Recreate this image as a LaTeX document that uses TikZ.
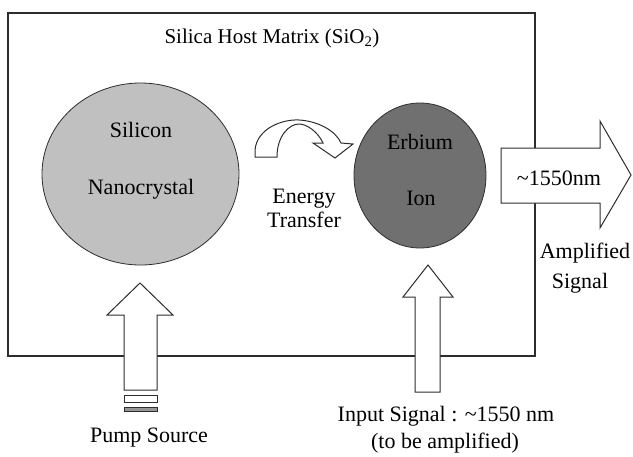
\documentclass[tikz,border=0pt]{standalone}
\usepackage{fontspec}
\setmainfont{Liberation Serif}
\usepackage{xcolor}
\definecolor{sigray}{RGB}{192,192,192}
\definecolor{ergray}{RGB}{112,112,112}
\definecolor{barfill}{RGB}{150,150,150}
\definecolor{linegray}{RGB}{45,45,45}
\usetikzlibrary{shapes.geometric}

\begin{document}
\begin{tikzpicture}[
  x=1pt, y=-1pt,
  every node/.style={font=\rmfamily\fontsize{22}{26}\selectfont, inner sep=0pt},
  lbl/.style={anchor=base},
  particle/.style={draw=linegray, line width=0.8pt, ellipse},
  blockarrow/.style={draw=linegray, fill=white, line width=1pt, line join=miter},
]
\useasboundingbox (0,0) rectangle (633,456);

% host matrix
\draw[linegray, line width=1.2pt] (8,13) rectangle (535,356);
\node[lbl, font=\rmfamily\fontsize{21}{25}\selectfont] (matrix) at (272,43) {Silica Host Matrix (SiO\textsubscript{2})};

% particles
\node[particle, fill=sigray, minimum width=197pt, minimum height=182pt] (si) at (140.5,174) {};
\node[particle, fill=ergray, minimum width=132pt, minimum height=145pt] (er) at (420,175.5) {};
\node[lbl] (silabel) at (141,137) {Silicon};
\node[lbl] (nclabel) at (141,194) {Nanocrystal};
\node[lbl] (erlabel) at (420,149) {Erbium};
\node[lbl] (ionlabel) at (421,205) {Ion};

% energy transfer
\draw[blockarrow] (255,157) -- (255,150)
  .. controls (257,128) and (283,119) .. (299,120)
  .. controls (318,121) and (336,131) .. (341,143)
  -- (353,144) -- (335,158) -- (313,143) -- (323,143)
  .. controls (318,132) and (307,124) .. (299,124)
  .. controls (289,124) and (277,136) .. (277,157) -- cycle;
\node[lbl] (energy) at (304,203) {Energy};
\node[lbl] (transfer) at (304,227) {Transfer};

% amplified output
\draw[blockarrow] (501,148) -- (600,148) -- (600,121) -- (631,175)
  -- (600,228) -- (600,203) -- (501,203) -- cycle;
\node[lbl] (outwl) at (559,185) {\textasciitilde 1550nm};
\node[lbl] (amp) at (585,258) {Amplified};
\node[lbl] (sig) at (580,288) {Signal};

% pump
\draw[blockarrow] (124,390) -- (124,315) -- (107,315) -- (140,283)
  -- (173,315) -- (157,315) -- (157,390) -- cycle;
\draw[blockarrow] (124,395) rectangle (157,402);
\draw[blockarrow, fill=barfill] (124,407) rectangle (157,411);
\node[lbl] (pump) at (149,442) {Pump Source};

% input signal
\draw[blockarrow] (415,392) -- (415,297) -- (403,297) -- (428,265)
  -- (453,297) -- (440,297) -- (440,392) -- cycle;
\node[lbl] (input) at (446,421) {Input Signal : \textasciitilde 1550 nm};
\node[lbl] (tobe) at (445,448) {(to be amplified)};
\end{tikzpicture}
\end{document}
